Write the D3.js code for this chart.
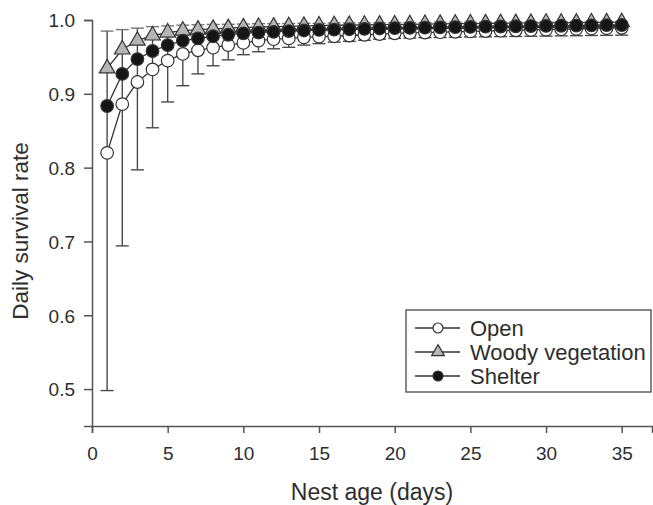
<!DOCTYPE html>
<html>
<head>
<meta charset="utf-8">
<script src="https://cdn.jsdelivr.net/npm/d3@7"></script>
<style>
  body { margin: 0; background: #fff; }
  text { font-family: "Liberation Sans", Arial, sans-serif; fill: #2e2e2e; }
</style>
</head>
<body>
<svg id="container"></svg>
<script>
const days = d3.range(1, 36);
const openVals = [0.820, 0.886, 0.916, 0.933, 0.945, 0.954, 0.959, 0.9625, 0.966, 0.969,
  0.972, 0.974, 0.975, 0.9765, 0.9775, 0.978, 0.979, 0.980, 0.981, 0.982,
  0.9825, 0.983, 0.9835, 0.984, 0.9845, 0.985, 0.9855, 0.986, 0.9865, 0.987,
  0.9875, 0.988, 0.9885, 0.989, 0.9895];
const openLow = [0.498, 0.694, 0.797, 0.854, 0.889, 0.911, 0.927, 0.938, 0.946, 0.953,
  0.957, 0.961, 0.963, 0.966, 0.968, 0.970, 0.971, 0.9725, 0.974, 0.975,
  0.9755, 0.976, 0.9763, 0.9766, 0.977, 0.9772, 0.9775, 0.9777, 0.978, 0.9782,
  0.9785, 0.9787, 0.979, 0.9792, 0.9795];
const openHigh = [0.985, 0.987, 0.989, 0.991, 0.992, 0.993, 0.9935, 0.994, 0.9942, 0.9945,
  0.995, 0.995, 0.9952, 0.9955, 0.9955, 0.996, 0.996, 0.996, 0.9962, 0.9965,
  0.9965, 0.9965, 0.997, 0.997, 0.997, 0.997, 0.9972, 0.9975, 0.9975, 0.9975,
  0.9978, 0.998, 0.998, 0.998, 0.998];
const woodyVals = [0.9345, 0.960, 0.972, 0.979, 0.983, 0.9855, 0.987, 0.988, 0.989, 0.990,
  0.9905, 0.991, 0.9915, 0.992, 0.9925, 0.993, 0.9932, 0.9935, 0.9938, 0.994,
  0.9942, 0.9945, 0.9947, 0.995, 0.9952, 0.9954, 0.9956, 0.9958, 0.996, 0.9962,
  0.9963, 0.9965, 0.9966, 0.9968, 0.997];
const shelterVals = [0.8835, 0.927, 0.947, 0.958, 0.966, 0.972, 0.975, 0.978, 0.980, 0.982,
  0.983, 0.984, 0.985, 0.9858, 0.9865, 0.987, 0.9875, 0.988, 0.9885, 0.989,
  0.9893, 0.9896, 0.990, 0.9903, 0.9906, 0.9909, 0.9912, 0.9915, 0.9918, 0.992,
  0.9922, 0.9925, 0.9927, 0.993, 0.9932];
const xTicks = [0, 5, 10, 15, 20, 25, 30, 35];
const yTicks = [0.5, 0.6, 0.7, 0.8, 0.9, 1.0];
const legendLabels = ["Open", "Woody vegetation", "Shelter"];

const width = 653, height = 505;
const svg = d3.select("#container").attr("width", width).attr("height", height);

const x = d3.scaleLinear().domain([0, 37]).range([92, 652]);
const y = d3.scaleLinear().domain([0.45, 1.0]).range([426, 20]);
const axisCol = "#555";

// axes
const xAxis = svg.append("g").attr("transform", "translate(0,426)")
  .call(d3.axisBottom(x).tickValues(xTicks).tickSize(7).tickPadding(14).tickFormat(d3.format("d")));
const yAxis = svg.append("g").attr("transform", "translate(92,0)")
  .call(d3.axisLeft(y).tickValues(yTicks).tickSize(8).tickPadding(9).tickFormat(d3.format(".1f")));
[xAxis, yAxis].forEach(g => {
  g.select(".domain").attr("stroke", axisCol).attr("stroke-width", 1.5);
  g.selectAll(".tick line").attr("stroke", axisCol).attr("stroke-width", 1.5);
  g.selectAll(".tick text").attr("font-size", 19).attr("fill", "#2e2e2e")
    .style("font-family", "'Liberation Sans', Arial, sans-serif");
});
yAxis.selectAll(".tick text").attr("dy", "0.36em");

svg.append("text").attr("x", 372).attr("y", 500).attr("text-anchor", "middle")
  .attr("font-size", 23).text("Nest age (days)");
svg.append("text").attr("transform", "translate(28,231) rotate(-90)")
  .attr("text-anchor", "middle").attr("font-size", 22.5).text("Daily survival rate");

// error bars (open)
const eb = svg.append("g").attr("stroke", "#4a4a4a").attr("stroke-width", 1.4);
days.forEach((d, i) => {
  eb.append("line").attr("x1", x(d)).attr("x2", x(d)).attr("y1", y(openLow[i])).attr("y2", y(openHigh[i]));
  eb.append("line").attr("x1", x(d) - 6.5).attr("x2", x(d) + 6.5).attr("y1", y(openLow[i])).attr("y2", y(openLow[i]));
  eb.append("line").attr("x1", x(d) - 6.5).attr("x2", x(d) + 6.5).attr("y1", y(openHigh[i])).attr("y2", y(openHigh[i]))
    .attr("stroke", "#777");
});

const series = [
  { vals: openVals, shape: "circle", fill: "#fff" },
  { vals: woodyVals, shape: "triangle", fill: "#b5b5b5" },
  { vals: shelterVals, shape: "circle", fill: "#151515" }
];
const line = d3.line().x((v, i) => x(days[i])).y(v => y(v));

series.forEach(s => {
  svg.append("path").datum(s.vals).attr("d", line).attr("fill", "none")
    .attr("stroke", "#333").attr("stroke-width", 1.3);
  const g = svg.append("g");
  if (s.shape === "circle") {
    g.selectAll("circle").data(s.vals).join("circle")
      .attr("cx", (v, i) => x(days[i])).attr("cy", v => y(v)).attr("r", 6.3)
      .attr("fill", s.fill).attr("stroke", "#333").attr("stroke-width", 1.2);
  } else {
    g.selectAll("path").data(s.vals).join("path")
      .attr("d", d3.symbol(d3.symbolTriangle, 105))
      .attr("transform", (v, i) => `translate(${x(days[i])},${y(v)})`)
      .attr("fill", s.fill).attr("stroke", "#333").attr("stroke-width", 1.2);
  }
});

// legend
const lg = svg.append("g");
lg.append("rect").attr("x", 406).attr("y", 310).attr("width", 245).attr("height", 82)
  .attr("fill", "#fff").attr("stroke", axisCol).attr("stroke-width", 1.4);
legendLabels.forEach((lab, i) => {
  const ly = 328 + i * 24;
  lg.append("line").attr("x1", 415).attr("x2", 460).attr("y1", ly).attr("y2", ly)
    .attr("stroke", "#333").attr("stroke-width", 1.3);
  const s = series[i];
  if (s.shape === "circle") {
    lg.append("circle").attr("cx", 438).attr("cy", ly).attr("r", 5)
      .attr("fill", s.fill).attr("stroke", "#333").attr("stroke-width", 1.2);
  } else {
    lg.append("path").attr("d", d3.symbol(d3.symbolTriangle, 70))
      .attr("transform", `translate(438,${ly})`)
      .attr("fill", s.fill).attr("stroke", "#333").attr("stroke-width", 1.2);
  }
  lg.append("text").attr("x", 470).attr("y", ly + 8).attr("font-size", 22).text(lab);
});
</script>
</body>
</html>
